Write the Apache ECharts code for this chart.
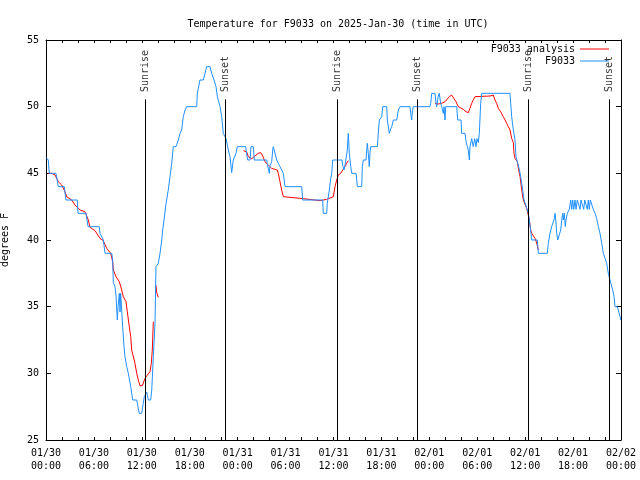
<!DOCTYPE html>
<html>
<head>
<meta charset="utf-8">
<script src="https://cdn.jsdelivr.net/npm/echarts@6/dist/echarts.min.js"></script>
<style>html,body{margin:0;padding:0;background:#fff}#c{width:640px;height:480px}</style>
</head>
<body>
<div id="c"></div>
<script>
// hours since 01/30 00:00 UTC
var dayLabels = ['01/30', '01/31', '02/01', '02/02'];
var hourLabels = ['00:00', '06:00', '12:00', '18:00'];
var sunTimes = [12.40, 22.41, 36.44, 46.46, 60.36, 70.50];
var sunNames = ['Sunrise', 'Sunset', 'Sunrise', 'Sunset', 'Sunrise', 'Sunset'];

var obsHours = [0.00,0.29,0.41,1.25,1.54,2.29,2.50,3.92,4.01,5.01,5.26,6.67,6.76,7.18,7.39,8.23,8.35,8.43,8.64,8.77,8.93,9.02,9.18,9.27,9.35,9.60,9.77,9.89,10.11,10.31,10.61,10.86,11.36,11.43,11.68,11.98,12.18,12.31,12.61,12.81,13.11,13.24,13.44,13.65,13.77,14.06,14.28,14.49,14.61,14.78,15.03,15.31,15.53,15.74,15.94,16.28,16.57,16.78,16.99,17.19,17.41,17.62,18.87,18.95,19.28,19.70,19.91,20.12,20.54,20.75,21.04,21.29,21.45,21.79,22.00,22.20,22.54,22.83,23.04,23.25,23.45,23.79,23.96,25.01,25.13,25.26,25.55,25.67,25.96,26.08,27.64,27.71,27.96,28.05,28.26,28.39,28.46,28.68,28.89,29.09,29.30,29.72,29.87,29.93,32.02,32.14,34.65,34.72,35.15,35.22,35.48,35.65,35.78,35.90,37.07,37.15,37.32,37.44,37.60,37.73,37.85,37.98,38.07,38.16,38.28,38.82,38.91,38.98,39.53,39.61,39.73,40.07,40.23,40.36,40.48,40.57,40.66,41.49,41.61,41.74,42.04,42.16,42.66,42.74,42.99,43.11,43.29,43.49,43.92,44.12,44.33,45.58,45.67,45.79,45.89,45.99,48.08,48.17,48.30,48.71,48.84,48.92,49.12,49.25,49.42,49.55,49.75,49.84,49.96,50.05,51.43,51.55,51.97,52.05,52.47,52.59,52.76,52.88,53.01,53.09,53.30,53.50,53.68,53.84,53.97,54.13,54.26,54.43,54.56,58.10,58.19,58.31,58.52,58.73,58.85,59.02,59.27,59.44,59.57,59.69,59.86,60.11,60.19,60.39,60.52,60.67,60.82,61.52,61.65,62.77,62.90,63.11,63.32,63.53,63.65,63.74,63.83,63.95,64.08,64.28,64.45,64.58,64.70,64.78,64.90,65.03,65.11,65.28,65.53,65.70,65.83,65.95,66.08,66.24,66.37,66.53,66.74,66.87,66.99,67.21,67.33,67.46,67.66,67.78,67.91,68.03,68.16,68.33,68.53,68.75,68.96,69.17,69.37,69.59,69.79,70.00,70.21,70.41,70.62,70.79,70.96,71.13,71.25,71.54,71.66,71.88,71.97];
var obsTemps = [46.2,46.0,45.0,45.0,44.0,44.0,43.0,43.0,42.0,42.0,41.0,41.0,40.5,40.0,39.0,39.0,38.5,36.8,36.5,35.8,34.0,35.0,36.0,34.6,36.0,33.5,32.0,31.25,30.5,30.0,29.0,28.0,28.0,27.75,27.0,27.0,27.75,28.25,28.6,28.0,28.0,28.75,31.25,33.75,38.0,38.25,39.0,40.0,40.75,41.5,42.75,43.75,44.75,45.75,47.0,47.0,47.5,48.0,48.25,49.25,49.75,50.0,50.0,51.0,52.0,52.0,52.5,53.0,53.0,52.5,52.0,51.5,50.75,50.0,49.25,48.0,47.6,46.75,46.25,45.05,46.0,46.5,47.0,47.0,46.4,46.0,46.0,47.0,47.0,46.0,46.0,45.75,45.0,45.6,45.87,46.75,47.0,46.5,46.0,45.75,45.5,45.0,45.0,44.0,44.0,43.0,43.0,42.0,42.0,42.75,43.75,44.6,45.0,46.0,46.0,45.6,45.25,45.6,45.7,46.75,48.0,46.5,46.0,45.5,45.0,45.0,44.5,44.0,44.0,45.5,46.0,46.0,47.25,46.5,45.5,46.5,47.0,47.0,48.0,49.0,49.25,50.0,50.0,49.0,48.0,48.25,48.5,49.0,49.0,49.75,50.0,50.0,49.5,49.0,49.7,50.0,50.0,50.25,51.0,51.0,50.25,50.0,50.8,51.0,50.25,50.0,49.5,50.0,49.0,50.0,50.0,49.0,49.0,48.0,48.0,47.4,47.0,46.75,46.0,47.0,47.6,47.0,47.6,47.0,47.6,47.3,48.0,50.25,51.0,51.0,50.25,49.25,48.25,47.5,46.25,46.1,45.3,44.75,44.25,43.75,43.0,43.0,42.4,42.0,41.5,40.8,40.0,40.0,39.0,39.0,39.75,40.5,41.0,41.0,41.6,42.0,41.5,40.5,40.0,40.0,40.75,41.5,42.0,41.5,42.0,41.0,41.5,42.0,42.3,43.0,42.3,43.0,42.3,43.0,42.3,43.0,43.0,42.3,43.0,43.0,42.3,43.0,43.0,42.3,43.0,42.3,43.0,43.0,42.3,42.0,41.6,41.0,40.5,39.75,39.0,38.9,38.25,37.5,37.0,36.9,36.25,35.75,35.0,35.0,34.75,34.25,34.0];

// null = gap in the analysis line
var anaHours = [0.25,0.71,1.13,1.54,1.97,2.38,2.59,3.22,3.63,4.26,4.88,5.30,5.51,6.14,6.76,7.18,7.60,8.10,8.35,8.43,8.77,9.18,9.48,9.68,10.02,10.18,10.43,10.61,10.73,10.89,11.14,11.36,11.56,11.77,12.06,12.40,12.69,13.02,13.19,13.31,13.44,null,13.77,13.86,14.06,null,24.71,25.13,25.33,25.76,26.17,26.58,26.89,27.14,27.42,27.84,28.26,28.68,28.96,29.09,29.30,29.51,29.72,29.93,32.22,32.43,34.31,35.15,35.56,35.98,36.19,36.40,36.60,36.90,37.15,37.44,37.65,37.85,null,48.71,49.12,49.55,49.96,50.18,50.50,50.80,51.00,51.34,51.63,51.84,52.25,52.59,52.88,53.09,53.30,53.50,53.72,53.93,55.60,55.81,56.01,56.22,56.43,56.64,56.94,57.26,57.48,57.69,57.89,58.10,58.31,58.52,58.60,58.73,58.94,59.02,59.14,59.36,59.57,59.77,59.98,60.19,60.39,60.52,60.69,60.82,61.02,61.24,61.45,61.65];
var anaTemps = [45.0,45.0,44.88,44.37,44.12,43.62,43.25,43.0,42.62,42.25,42.12,41.5,40.95,40.7,40.12,39.95,39.37,39.0,38.37,37.75,37.25,36.87,36.25,35.75,35.37,34.62,33.5,32.75,31.75,31.75,30.75,30.0,29.5,29.07,29.07,29.63,29.87,30.12,30.75,31.75,33.87,null,36.6,36.05,35.7,null,46.7,46.6,46.25,46.1,46.3,46.5,46.55,46.3,45.87,45.62,45.37,45.3,45.25,45.0,44.37,43.75,43.25,43.12,43.1,43.0,42.95,43.05,43.15,43.25,44.0,44.5,44.87,45.0,45.25,45.5,45.75,45.95,null,50.25,50.2,50.25,50.37,50.5,50.75,50.87,50.75,50.37,50.0,49.87,49.8,49.62,49.55,49.87,50.25,50.5,50.75,50.8,50.8,50.87,50.87,50.5,50.25,49.87,49.62,49.25,49.0,48.75,48.5,48.25,47.62,47.3,46.5,46.12,46.0,45.87,45.4,44.75,43.75,43.0,43.0,42.37,41.87,41.5,40.75,40.5,40.4,40.12,39.75,39.25];

var FONT = 'DejaVu Sans Mono';
var obsData = obsHours.map(function (h, i) { return [h, obsTemps[i]]; });
var anaData = anaHours.map(function (h, i) {
  return (h === null || anaTemps[i] === null) ? ['-', '-'] : [h, anaTemps[i]];
});

function xAxisCfg(pos, showLabels) {
  return {
    type: 'value', position: pos, min: 0, max: 72, interval: 6,
    axisLine: { show: true, onZero: false, lineStyle: { color: '#000', width: 1 } },
    axisTick: { show: true, inside: true, length: 3, lineStyle: { color: '#000' } },
    minorTick: { show: true, splitNumber: 3, length: 3, lineStyle: { color: '#000' } },
    splitLine: { show: false },
    axisLabel: {
      show: showLabels, margin: 7, fontFamily: FONT, fontSize: 10, color: '#000', lineHeight: 13,
      formatter: function (v) {
        var d = Math.floor(v / 24), hr = Math.round((v % 24) / 6);
        return dayLabels[d] + '\n' + hourLabels[hr];
      }
    }
  };
}
function yAxisCfg(pos, showLabels) {
  return {
    type: 'value', position: pos, min: 25, max: 55, interval: 5,
    name: showLabels ? 'degrees F' : '', nameLocation: 'middle', nameRotate: 90, nameGap: 36,
    nameTextStyle: { fontFamily: FONT, fontSize: 10, color: '#000' },
    axisLine: { show: true, onZero: false, lineStyle: { color: '#000', width: 1 } },
    axisTick: { show: true, inside: true, length: 5, lineStyle: { color: '#000' } },
    splitLine: { show: false },
    axisLabel: { show: showLabels, margin: 7, fontFamily: FONT, fontSize: 10, color: '#000' }
  };
}

var chart = echarts.init(document.getElementById('c'), null, { renderer: 'canvas' });
chart.setOption({
  animation: false,
  backgroundColor: '#fff',
  title: {
    text: 'Temperature for F9033 on 2025-Jan-30 (time in UTC)',
    left: 333, top: 14, textAlign: 'center',
    textStyle: { fontFamily: FONT, fontSize: 10, fontWeight: 'normal', color: '#000' }
  },
  grid: { left: 46, right: 19, top: 40, bottom: 40, outerBoundsMode: 'none' },
  legend: {
    data: ['F9033 analysis', 'F9033'],
    orient: 'vertical', align: 'right', right: 31, top: 43, padding: 0, itemGap: 0,
    itemWidth: 29, itemHeight: 1, icon: 'rect',
    textStyle: { fontFamily: FONT, fontSize: 10, color: '#000', lineHeight: 12 }
  },
  xAxis: [xAxisCfg('bottom', true), xAxisCfg('top', false)],
  yAxis: [yAxisCfg('left', true), yAxisCfg('right', false)],
  series: [
    {
      name: 'F9033 analysis', type: 'line', data: anaData, showSymbol: false, symbol: 'none',
      connectNulls: false, color: '#ff0000', lineStyle: { color: '#ff0000', width: 1 }, z: 2
    },
    {
      name: 'F9033', type: 'line', data: obsData, showSymbol: false, symbol: 'none',
      color: '#1e90ff', lineStyle: { color: '#1e90ff', width: 1 }, z: 3
    },
    {
      name: 'sun', type: 'line', data: [], silent: true, z: 4,
      markLine: {
        silent: true, symbol: ['none', 'none'], animation: false,
        label: { show: false },
        lineStyle: { color: '#000', width: 1, type: 'solid' },
        data: sunTimes.map(function (t) { return [{ coord: [t, 25] }, { coord: [t, 50.55] }]; })
      }
    },
    {
      name: 'sunLabels', type: 'scatter', symbolSize: 0, silent: true, z: 5,
      data: sunTimes.map(function (t, i) { return { value: [t, 51.1], name: sunNames[i] }; }),
      label: {
        show: true, formatter: '{b}', position: 'inside', rotate: 90,
        align: 'left', verticalAlign: 'middle',
        fontFamily: FONT, fontSize: 10, color: '#000'
      }
    }
  ]
});
</script>
</body>
</html>
